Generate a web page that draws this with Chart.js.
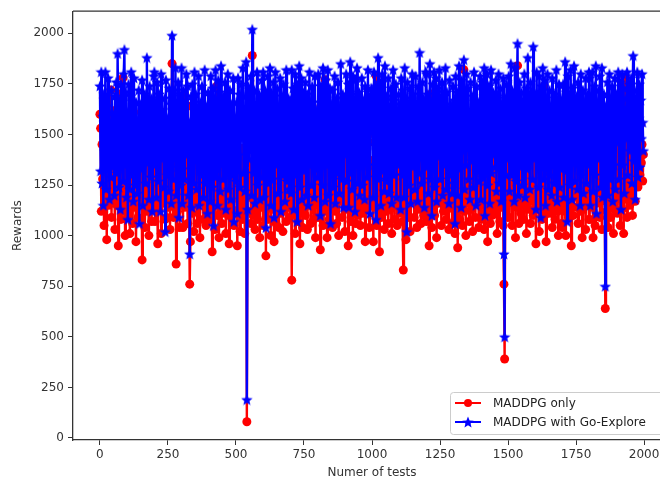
<!DOCTYPE html>
<html>
<head>
<meta charset="utf-8">
<script src="https://cdn.jsdelivr.net/npm/chart.js@4.4.0/dist/chart.umd.min.js"></script>
<style>
  html, body { margin: 0; padding: 0; background: #fff; overflow: hidden; }
  #wrap { width: 660px; height: 481px; overflow: hidden; }
  canvas { display: block; }
</style>
</head>
<body>
<div id="wrap"><canvas id="chart" width="700" height="481"></canvas></div>
<script>
// one sample every STEP tests
const STEP = 2.5;

const xTicks = [0, 250, 500, 750, 1000, 1250, 1500, 1750, 2000];
const yTicks = [0, 250, 500, 750, 1000, 1250, 1500, 1750, 2000];

const seriesNames = ["MADDPG only", "MADDPG with Go-Explore"];

const maddpgOnly = [
    1600,1530,1120,1450,1280,1680,1050,1390,1210,1570,980,1320,1640,1150,1470,1260,1720,1090,1380,1510,
    1180,1410,1030,1620,1290,1150,1550,950,1360,1700,1240,1080,1480,1310,1780,1120,1430,1000,1590,1270,
    1350,1100,1240,1520,1010,1330,1190,1440,1060,1280,1610,1140,1370,970,1250,1480,1090,1300,1170,1560,
    1230,1410,880,1350,1160,1490,1040,1270,1650,1120,1380,1210,1000,1530,1150,1290,1070,1440,1260,1130,
    1390,1070,1650,1200,1340,960,1520,1130,1440,1250,1010,1610,1300,1160,1170,1460,1080,1380,1090,1560,
    1260,1140,1470,1030,1310,1220,1850,1180,1090,1420,1290,1540,860,1350,1120,1250,1600,1040,1330,1180,
    1230,1490,1040,1330,1700,1140,1290,1420,1280,1060,1550,1190,760,970,1640,1250,1110,1450,1020,1310,
    1480,1150,1270,1060,1390,1200,1530,990,1340,1170,1260,1430,1080,1620,1190,1310,1050,1400,1240,1120,
    1560,1180,1080,1400,1290,920,1470,1150,1620,1030,1350,1210,1740,1100,1280,990,1430,1170,1520,1060,
    1300,1200,1450,1110,1370,1010,1250,1580,1140,1320,960,1400,1230,1090,1500,1180,1340,1050,1270,1420,
    1330,1240,950,1480,1130,1590,1020,1360,1210,1430,1080,1160,1390,1010,1270,1500,80,1120,1310,1230,
    1190,1360,1060,1250,1890,1100,1440,1200,1030,1320,1170,1540,1080,1280,1410,990,1220,1370,1140,1460,
    1050,1450,1190,1620,900,1340,1240,1080,1530,1170,1410,1000,1290,1670,1130,1380,970,1220,1470,1060,
    1300,1150,1420,1040,1260,1560,1110,1350,1200,1020,1390,1270,1130,1490,1070,1240,1610,1160,1330,1090,
    1350,1210,780,1260,1580,1110,1420,1010,1300,1190,1720,1070,1460,1230,960,1380,1140,1550,1040,1290,
    1180,1400,1100,1270,1500,1030,1360,1220,1150,1450,1060,1310,1640,1190,1080,1390,1250,990,1420,1160,
    1490,1090,1320,1600,930,1250,1170,1430,1050,1340,1210,1770,1120,1400,990,1280,1530,1080,1360,1150,
    1240,1370,1040,1460,1190,1310,1120,1580,1060,1280,1420,1000,1350,1170,1230,1510,1090,1300,1200,1440,
    1020,1440,1240,1130,1580,950,1310,1190,1650,1070,1390,1260,1000,1470,1160,1320,1060,1540,1200,1100,
    1360,1150,1280,1050,1430,1220,1110,1600,1180,1340,970,1260,1410,1130,1290,1500,1040,1230,1370,1160,
    1370,1230,970,1460,1140,1280,1790,1050,1330,1180,1500,920,1260,1420,1090,1600,1170,1350,1030,1240,
    1310,1120,1450,1200,1060,1390,1270,1540,1140,1010,1330,1220,1470,1080,1290,1160,1400,1050,1350,1190,
    1480,1110,1300,1200,1410,1070,830,1550,1150,1340,980,1270,1630,1090,1390,1220,1020,1450,1180,1310,
    1250,1380,1090,1470,1170,1300,1040,1560,1210,1130,1420,1290,1060,1350,1180,1500,1100,1260,1400,1140,
    1070,1560,1240,1380,950,1290,1140,1700,1040,1330,1200,1480,1100,1260,1610,990,1370,1160,1250,1420,
    1190,1330,1050,1440,1260,1120,1590,1210,1360,1080,1290,1500,1150,1030,1400,1240,1170,1320,1060,1460,
    1130,1300,1010,1520,1190,1350,940,1440,1230,1080,1580,1170,1320,1050,1400,1820,1120,1270,1000,1490,
    1280,1160,1390,1070,1250,1480,1130,1310,1020,1440,1200,1350,1090,1570,1180,1260,1410,1040,1330,1150,
    1210,1080,1360,1160,1630,1030,1290,1440,1120,1250,970,1520,1180,1340,1060,1470,1230,1100,1390,1150,
    1300,1450,1120,1240,1010,1380,1190,1530,1070,1280,1360,1140,1420,1050,760,390,1270,1180,1460,1090,
    1280,1410,1090,1560,1200,1330,1050,1250,1170,1260,1480,990,1380,1140,1840,1230,1060,1450,1310,1110,
    1360,1200,1470,1080,1320,1150,1540,1010,1290,1410,1130,1250,1380,1060,1500,1190,1340,1100,1270,1430,
    1350,960,1240,1500,1130,1390,1020,1270,1610,1180,1080,1420,1200,1740,1100,1330,970,1460,1150,1290,
    1220,1380,1110,1260,1490,1040,1310,1170,1430,1080,1350,1230,1560,1120,1000,1280,1400,1150,1330,1060,
    1040,1380,1210,1560,1120,1000,1470,1250,1340,1090,1660,1170,1300,950,1410,1230,1100,1520,1190,1360,
    1270,1140,1430,1060,1300,1210,1590,1120,1380,990,1250,1460,1180,1340,1030,1290,1150,1490,1220,1080,
    1080,1450,1260,1140,1580,990,1320,1200,1050,1400,1160,1290,1370,1220,1500,1090,1350,1170,1030,1430,
    1310,1190,1400,640,1250,1120,1360,1040,1470,1200,1290,1090,1550,1160,1330,1010,1420,1240,1130,1380,
    1250,1110,1560,1200,1380,1050,1290,1670,1130,1340,1010,1460,1780,1180,1300,1090,1520,1230,1400,1150,
    1330,1200,1480,1100,1390,1260,1560,1170,1420,1290,1510,1240,1380,1470,1300,1550,1360,1450,1270,1400
];

const withGoExplore = [
    1740,1320,1810,1260,1590,1150,1700,1420,1810,1230,1640,1370,1780,1480,1180,1560,1290,1720,1610,1340,
    1520,1200,1690,1450,1760,1310,1900,1580,1240,1670,1130,1750,1400,1620,1270,1800,1920,1350,1710,1190,
    1610,1080,1750,1460,1230,1690,1810,1300,1530,1170,1780,1400,1250,1660,1480,1210,1570,1720,1060,1490,
    1650,1330,1770,1150,1590,1420,1700,1260,1540,1880,1360,1610,1180,1740,1450,1290,1680,1120,1550,1790,
    1810,1350,1640,1190,1760,1430,1270,1700,1550,1120,1800,1380,1620,1470,1240,1680,1020,1770,1450,1300,
    1580,1220,1730,1390,1650,1160,1990,1510,1280,1720,1440,1830,1200,1600,1340,1760,1090,1560,1690,1250,
    1830,1160,1590,1720,1280,1650,1400,1800,1410,1740,1200,1560,910,1330,1690,1140,1750,1470,1260,1810,
    1470,1700,1230,1610,1380,1790,1150,1520,1660,1300,1740,1420,1190,1580,1820,1260,1640,1500,1110,1710,
    1380,1620,1170,1790,1500,1240,1730,1050,1680,1420,1820,1290,1600,1150,1770,1360,1710,1220,1840,1480,
    1560,1280,1690,1410,1760,1130,1620,1350,1800,1230,1540,1720,1180,1650,1460,1300,1780,1070,1590,1400,
    1270,1660,1110,1780,1400,1700,1240,1590,1750,1480,1830,1310,1620,1220,1690,1860,190,1130,1740,1380,
    1620,1450,1790,1200,2020,1570,1310,1720,1160,1640,1380,1810,1250,1550,1700,1180,1600,1430,1770,1290,
    1810,1190,1550,1720,1040,1650,1340,1790,1260,1600,1830,1150,1710,1430,1280,1760,1090,1580,1810,1350,
    1500,1730,1210,1640,1370,1780,1120,1560,1690,1300,1750,1440,1170,1620,1820,1270,1540,1680,1230,1460,
    1670,1210,1820,1460,1730,1130,1590,1800,1300,1680,1070,1750,1420,1840,1240,1630,1780,1180,1540,1710,
    1320,1600,1760,1200,1490,1700,1150,1580,1810,1350,1660,1250,1740,1410,1560,1190,1790,1330,1620,1480,
    1290,1800,1390,1660,1100,1740,1510,1250,1830,1440,1690,1170,1770,1350,1610,1820,1200,1560,1730,1060,
    1650,1380,1720,1240,1590,1790,1160,1530,1680,1310,1760,1420,1210,1640,1850,1280,1570,1700,1140,1450,
    1680,1400,1800,1270,1620,1750,1140,1590,1860,1310,1700,1230,1790,1480,1650,1120,1770,1380,1830,1260,
    1540,1710,1200,1630,1360,1780,1250,1500,1670,1180,1740,1430,1600,1290,1820,1350,1690,1110,1560,1730,
    1600,1720,1190,1810,1450,1660,1080,1740,1350,1880,1280,1630,1760,1150,1570,1800,1320,1700,1220,1840,
    1460,1270,1690,1550,1780,1210,1630,1380,1730,1160,1590,1820,1300,1670,1440,1750,1190,1610,1350,1700,
    1410,1650,1130,1780,1300,1720,1540,1190,1830,1370,1680,1020,1760,1470,1600,1250,1730,1160,1620,1800,
    1340,1700,1560,1230,1790,1420,1650,1170,1740,1310,1905,1480,1600,1260,1760,1390,1680,1140,1570,1810,
    1800,1340,1700,1210,1590,1850,1280,1660,1100,1750,1430,1810,1240,1620,1780,1170,1540,1730,1390,1820,
    1280,1640,1490,1760,1200,1690,1350,1580,1830,1230,1710,1410,1560,1160,1770,1300,1650,1470,1210,1740,
    1260,1670,1060,1790,1480,1710,1200,1600,1840,1330,1690,1140,1770,1420,1630,1870,1230,1720,1350,1800,
    1450,1730,1280,1610,1180,1760,1520,1370,1690,1240,1810,1430,1580,1150,1740,1320,1660,1500,1270,1790,
    1180,1650,1760,1290,1580,1830,1100,1700,1450,1800,1250,1620,1740,1160,1680,1820,1310,1560,1710,1400,
    1620,1340,1770,1220,1690,1480,1800,1260,1590,1730,1170,1650,1400,1780,910,500,1680,1300,1750,1420,
    1380,1790,1220,1660,1850,1300,1720,1560,1410,1170,1830,1540,1270,1690,1950,1200,1620,1760,1480,1340,
    1710,1250,1640,1470,1800,1190,1580,1730,1330,1880,1420,1670,1230,1760,1500,1600,1280,1935,1380,1650,
    1700,1130,1810,1460,1650,1240,1790,1570,1090,1740,1390,1830,1280,1610,1770,1150,1680,1440,1800,1230,
    1560,1720,1300,1640,1200,1780,1450,1590,1260,1700,1370,1820,1170,1620,1490,1750,1240,1680,1330,1600,
    1660,1750,1190,1580,1860,1320,1710,1070,1790,1420,1640,1250,1820,1530,1180,1730,1360,1840,1270,1600,
    1480,1690,1230,1760,1390,1620,1150,1800,1300,1570,1720,1210,1660,1440,1780,1260,1530,1700,1350,1810,
    1780,1150,1690,1430,1810,1220,1570,1740,1300,1840,1110,1660,1470,1720,1380,1790,1240,1620,1830,1190,
    1580,1700,1310,750,1640,1420,1760,1200,1550,1800,1280,1680,1460,1740,1170,1610,1350,1780,1230,1650,
    1700,1460,1810,1280,1650,1760,1130,1590,1800,1350,1730,1210,1620,1480,1680,1810,1300,1620,1750,1420,
    1540,1780,1260,1690,1890,1370,1720,1180,1640,1500,1810,1290,1580,1750,1340,1670,1480,1800,1560,1420
];

function toPoints(values) {
    return values.map((v, i) => ({ x: i * STEP, y: v }));
}

// filled five point star like matplotlib's "*"
function makeStar(size, color) {
    const c = document.createElement("canvas");
    c.width = size;
    c.height = size;
    const g = c.getContext("2d");
    const cx = size / 2, cy = size / 2;
    const outer = size / 2, inner = outer * 0.45;
    g.beginPath();
    for (let k = 0; k < 10; k++) {
        const r = k % 2 === 0 ? outer : inner;
        const a = -Math.PI / 2 + k * Math.PI / 5;
        const px = cx + r * Math.cos(a);
        const py = cy + r * Math.sin(a) + size * 0.05;
        if (k === 0) g.moveTo(px, py);
        else g.lineTo(px, py);
    }
    g.closePath();
    g.fillStyle = color;
    g.fill();
    return c;
}

const starImg = makeStar(12, "#0000ff");

const TICK_FONT = { family: "DejaVu Sans", size: 12 };
const TEXT_COLOR = "#333333";
const LINE_W = 2.4;

const framePlugin = {
    id: "frame",
    afterDraw(chart) {
        const ctx = chart.ctx;
        const a = chart.chartArea;
        ctx.save();
        // top and right spines
        ctx.strokeStyle = "#333333";
        ctx.lineWidth = 1.3;
        ctx.beginPath();
        ctx.moveTo(a.left, a.top);
        ctx.lineTo(a.right, a.top);
        ctx.lineTo(a.right, a.bottom);
        ctx.stroke();

        // axis titles
        ctx.fillStyle = TEXT_COLOR;
        ctx.font = "12px 'DejaVu Sans'";
        ctx.textAlign = "center";
        ctx.textBaseline = "middle";
        ctx.fillText("Numer of tests", (a.left + a.right) / 2, 473);
        ctx.save();
        ctx.translate(18, (a.top + a.bottom) / 2);
        ctx.rotate(-Math.PI / 2);
        ctx.fillText("Rewards", 0, 0);
        ctx.restore();

        // legend, lower right inside the axes
        const bx = 450, by = 392, bw = 213, bh = 42;
        ctx.fillStyle = "rgba(255,255,255,0.85)";
        ctx.strokeStyle = "#cccccc";
        ctx.lineWidth = 1;
        ctx.beginPath();
        ctx.roundRect(bx + 0.5, by + 0.5, bw, bh, 3);
        ctx.fill();
        ctx.stroke();

        const rows = [
            { y: 403, color: "#ff0000", name: seriesNames[0], star: false },
            { y: 422, color: "#0000ff", name: seriesNames[1], star: true }
        ];
        rows.forEach(r => {
            ctx.strokeStyle = r.color;
            ctx.lineWidth = 2;
            ctx.beginPath();
            ctx.moveTo(455, r.y);
            ctx.lineTo(481, r.y);
            ctx.stroke();
            if (r.star) {
                ctx.drawImage(starImg, 468 - 6, r.y - 6);
            } else {
                ctx.fillStyle = r.color;
                ctx.beginPath();
                ctx.arc(468, r.y, 4, 0, Math.PI * 2);
                ctx.fill();
            }
            ctx.fillStyle = "#222222";
            ctx.textAlign = "left";
            ctx.fillText(r.name, 493, r.y + 0.5);
        });
        ctx.restore();
    }
};

new Chart(document.getElementById("chart"), {
    type: "line",
    data: {
        datasets: [
            {
                label: seriesNames[0],
                data: toPoints(maddpgOnly),
                borderColor: "#ff0000",
                backgroundColor: "#ff0000",
                borderWidth: LINE_W,
                pointRadius: 4.5,
                pointBorderWidth: 0,
                pointBackgroundColor: "#ff0000",
                tension: 0,
                order: 1
            },
            {
                label: seriesNames[1],
                data: toPoints(withGoExplore),
                borderColor: "#0000ff",
                backgroundColor: "#0000ff",
                borderWidth: LINE_W,
                pointStyle: starImg,
                tension: 0,
                order: 0
            }
        ]
    },
    options: {
        responsive: false,
        animation: false,
        events: [],
        layout: { padding: { top: 11, left: 0, right: 29, bottom: 0 } },
        plugins: {
            legend: { display: false },
            tooltip: { enabled: false }
        },
        scales: {
            x: {
                type: "linear",
                min: -99,
                max: 2099,
                afterBuildTicks: (scale) => { scale.ticks = xTicks.map(v => ({ value: v })); },
                afterFit: (scale) => { scale.height = 41; },
                ticks: {
                    font: TICK_FONT,
                    color: TEXT_COLOR,
                    padding: 3,
                    maxRotation: 0,
                    autoSkip: false,
                    callback: (v) => String(v)
                },
                grid: { drawOnChartArea: false, drawTicks: true, tickLength: 5, color: "#333333" },
                border: { display: true, color: "#333333", width: 1.3 }
            },
            y: {
                min: -10,
                max: 2109,
                afterBuildTicks: (scale) => { scale.ticks = yTicks.map(v => ({ value: v })); },
                afterFit: (scale) => { scale.width = 73; },
                ticks: {
                    font: TICK_FONT,
                    color: TEXT_COLOR,
                    padding: 4,
                    autoSkip: false,
                    callback: (v) => String(v)
                },
                grid: { drawOnChartArea: false, drawTicks: true, tickLength: 5, color: "#333333" },
                border: { display: true, color: "#333333", width: 1.3 }
            }
        }
    },
    plugins: [framePlugin]
});
</script>
</body>
</html>
